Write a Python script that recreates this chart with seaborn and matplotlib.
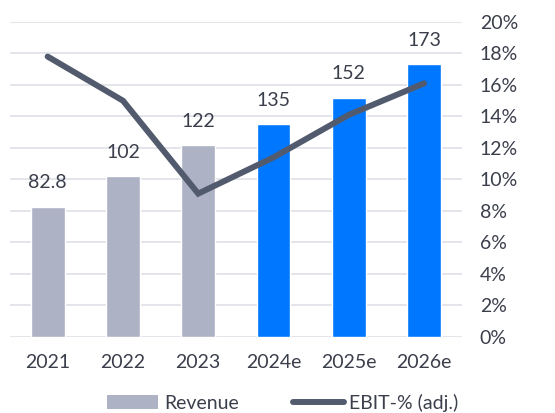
import matplotlib
matplotlib.use("Agg")
import pandas as pd
import seaborn as sns
from matplotlib import pyplot
from matplotlib.patches import Patch
from matplotlib.lines import Line2D
from matplotlib.ticker import FuncFormatter

years = ['2021', '2022', '2023', '2024e', '2025e', '2026e']
revenue = [82.8, 102, 122, 135, 152, 173]
ebit_pct = [17.8, 15.0, 9.1, 11.4, 14.1, 16.1]
bar_colors = ['#adb2c4', '#adb2c4', '#adb2c4', '#0077ff', '#0077ff', '#0077ff']

text_color = '#3b3f4b'
grid_color = '#dfe0e7'
line_color = '#525b6d'

sns.set_theme(style="white")
pyplot.rcParams['font.family'] = ['Lato', 'DejaVu Sans']

df = pd.DataFrame({'year': years, 'revenue': revenue, 'ebit': ebit_pct})

fig = pyplot.figure(figsize=(5.55, 4.13), dpi=100)
ax = fig.add_axes([0.018, 0.184, 0.814, 0.763])

sns.barplot(data=df, x='year', y='revenue', hue='year', palette=bar_colors,
            width=0.45, legend=False, ax=ax, saturation=1)
for cont in ax.containers:
    ax.bar_label(cont, fmt='{:g}', padding=11, fontsize=14, color=text_color)

ax.set_ylim(0, 200)
ax.set_xlim(-0.5, 5.5)
ax.set_yticks(range(0, 201, 20))
ax.set_yticklabels([])
ax.yaxis.grid(True, color=grid_color, linewidth=1.2)
ax.set_axisbelow(True)
ax.tick_params(axis='x', length=0, pad=12, labelsize=14, labelcolor=text_color)
ax.tick_params(axis='y', length=0)
ax.set_xlabel('')
ax.set_ylabel('')
for s in ax.spines.values():
    s.set_visible(False)

ax2 = ax.twinx()
sns.lineplot(x=list(range(len(years))), y=ebit_pct, color=line_color,
             linewidth=4.3, ax=ax2, solid_capstyle='round', solid_joinstyle='miter')
ax2.set_ylim(0, 20)
ax2.set_yticks(range(0, 21, 2))
ax2.yaxis.set_major_formatter(FuncFormatter(lambda v, p: f'{v:.0f}%'))
ax2.tick_params(axis='y', length=0, pad=13, labelsize=14, labelcolor=text_color)
ax2.grid(False)
for s in ax2.spines.values():
    s.set_visible(False)
ax.set_xlim(-0.5, 5.5)

handles = [Patch(facecolor='#adb2c4', edgecolor='none'),
           Line2D([0], [0], color=line_color, linewidth=4.3, solid_capstyle='round')]
fig.legend(handles, ['Revenue', 'EBIT-% (adj.)'], loc='lower center',
           bbox_to_anchor=(0.51, -0.04), ncol=2, frameon=False, fontsize=14,
           labelcolor=text_color, handlelength=2.6, handleheight=0.7,
           columnspacing=2.8, handletextpad=0.3)

fig.savefig('out.png', dpi=100)
